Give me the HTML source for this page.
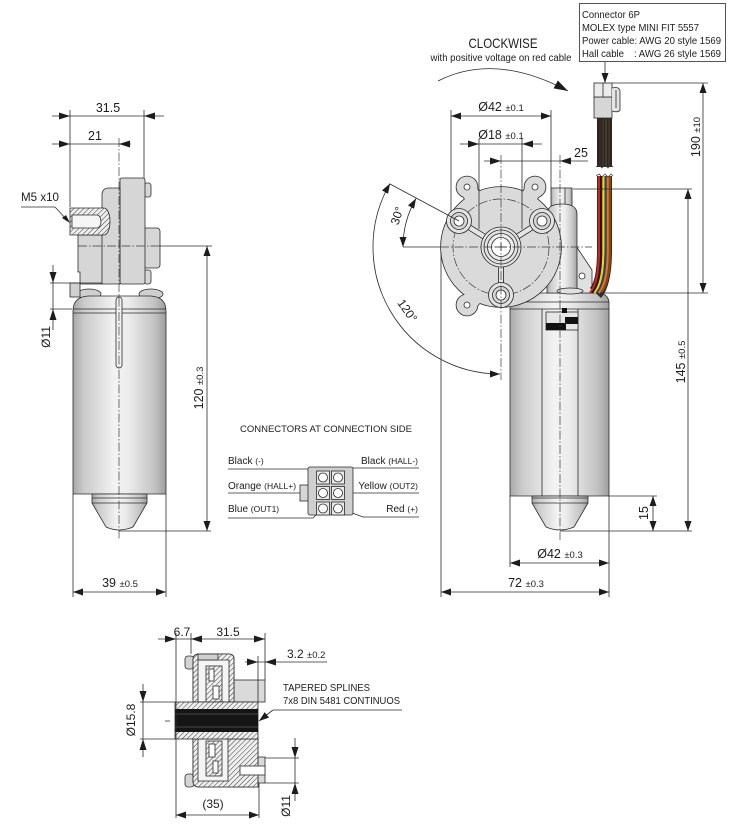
<!DOCTYPE html>
<html><head><meta charset="utf-8"><title>Gear motor drawing</title>
<style>
html,body{margin:0;padding:0;background:#fff;width:737px;height:827px;overflow:hidden}
svg{display:block}
text{font-family:"Liberation Sans",Arial,sans-serif;fill:#1c1c1c}
.l{stroke:#2b2b2b;stroke-width:0.8;fill:none}
.c{stroke:#3a3a3a;stroke-width:0.7;fill:none;stroke-dasharray:9 2 1.5 2}
.a{fill:#1c1c1c}
.o{stroke:#2b2b2b;stroke-width:0.8}
</style></head><body>
<svg width="737" height="827" viewBox="0 0 737 827" xmlns="http://www.w3.org/2000/svg">
<defs>
 <linearGradient id="g" x1="0" x2="1" y1="0" y2="0">
  <stop offset="0" stop-color="#a8a8a8"/>
  <stop offset="0.12" stop-color="#cbcbcb"/>
  <stop offset="0.45" stop-color="#f3f3f3"/>
  <stop offset="0.6" stop-color="#ececec"/>
  <stop offset="0.88" stop-color="#c2c2c2"/>
  <stop offset="1" stop-color="#9e9e9e"/>
 </linearGradient>
 <pattern id="h" width="3.5" height="3.5" patternUnits="userSpaceOnUse" patternTransform="rotate(45)">
  <rect width="3.5" height="3.5" fill="#eeeeee"/>
  <line x1="0" y1="0" x2="0" y2="3.5" stroke="#2a2a2a" stroke-width="0.9"/>
 </pattern>
 <marker id="m" viewBox="0 0 10 7" refX="10" refY="3.5" markerWidth="10" markerHeight="7" markerUnits="userSpaceOnUse" orient="auto-start-reverse"><path d="M0,0 L10,3.5 L0,7 z" fill="#1c1c1c"/></marker>
 <marker id="mb" viewBox="0 0 14 9" refX="14" refY="4.5" markerWidth="14" markerHeight="9" markerUnits="userSpaceOnUse" orient="auto"><path d="M0,0 L14,4.5 L0,9 z" fill="#1c1c1c"/></marker>
</defs>

<!-- ================= LEFT VIEW ================= -->
<ellipse class="o" cx="89" cy="294" rx="12" ry="5" fill="#cfcfcf"/>
<ellipse class="o" cx="151" cy="294" rx="12" ry="5" fill="#cfcfcf"/>
<path class="o" fill="url(#g)" d="M73,494 V311 Q73,297 88,296 H151 Q166,297 166,311 V494 Z"/>
<line class="l" x1="73" y1="309" x2="166" y2="309"/>
<line class="l" x1="73" y1="313" x2="166" y2="313"/>
<rect class="o" x="116" y="297" width="6" height="71" rx="3" fill="#f2f2f2"/>
<path class="o" fill="url(#g)" d="M92,494 V503 L106,527 Q119,533 133,527 L147,503 V494 Z"/>
<line class="l" x1="92" y1="498" x2="147" y2="498"/>
<line class="l" x1="92" y1="503" x2="147" y2="503"/>

<g fill="#d6d6d6" class="o">
 <rect x="143" y="228" width="17" height="40" rx="3"/>
 <rect x="144" y="183" width="7" height="14" rx="2.5"/>
 <rect x="144" y="270" width="7" height="14" rx="2.5"/>
 <rect x="120" y="178" width="25" height="106" rx="2"/>
 <path d="M78,235 H103 V284 H80 V272 H78 Z"/>
 <path d="M102,284 V195 Q102,188 109,188 H120 V284 Z"/>
 <rect x="70" y="283" width="10" height="14" fill="#d0d0d0"/>
</g>
<path class="o" fill="url(#h)" d="M70,208 H104 A6,13.5 0 0 1 104,235 H70 Z"/>
<path class="o" fill="#f6f6f6" d="M72,215 H97 A4,6.5 0 0 1 97,228 H72 Z"/>

<line class="c" x1="119" y1="138" x2="119" y2="540"/>
<line class="c" x1="78" y1="246" x2="160" y2="246"/>
<line class="l" x1="160" y1="246" x2="212" y2="246"/>

<g class="l">
 <line x1="52" y1="116" x2="164" y2="116"/>
 <line x1="70" y1="110" x2="70" y2="207"/>
 <line x1="144" y1="110" x2="144" y2="178"/>
 <line x1="52" y1="144" x2="131" y2="144"/>
 <line x1="21" y1="207" x2="55" y2="207"/>
 <line x1="55" y1="207" x2="67" y2="220"/>
 <line x1="50" y1="283" x2="102" y2="283"/>
 <line x1="50" y1="309" x2="72" y2="309"/>
 <line x1="53" y1="265" x2="53" y2="330"/>
 <line x1="119" y1="531" x2="211" y2="531"/>
 <line x1="207" y1="246" x2="207" y2="531" marker-start="url(#m)" marker-end="url(#m)"/>
 <line x1="73" y1="494" x2="73" y2="597"/>
 <line x1="166" y1="494" x2="166" y2="597"/>
 <line x1="73" y1="592" x2="166" y2="592" marker-start="url(#m)" marker-end="url(#m)"/>
</g>
<polygon class="a" points="70,116 59,112.5 59,119.5"/>
<polygon class="a" points="144,116 155,112.5 155,119.5"/>
<polygon class="a" points="70,144 59,140.5 59,147.5"/>
<polygon class="a" points="119,144 130,140.5 130,147.5"/>
<polygon class="a" points="70,223 62,218 66,215"/>
<polygon class="a" points="53,283 49.5,272 56.5,272"/>
<polygon class="a" points="53,309 49.5,320 56.5,320"/>

<text x="108" y="112" font-size="12.5" text-anchor="middle">31.5</text>
<text x="95" y="140" font-size="12.5" text-anchor="middle">21</text>
<text x="21" y="201" font-size="12" textLength="38" lengthAdjust="spacingAndGlyphs">M5 x10</text>
<text transform="translate(50,337) rotate(-90)" font-size="12" text-anchor="middle">Ø11</text>
<text transform="translate(203,388) rotate(-90)" text-anchor="middle"><tspan font-size="12.5">120 </tspan><tspan font-size="9.5">±0.3</tspan></text>
<text x="120" y="587" text-anchor="middle"><tspan font-size="12.5">39 </tspan><tspan font-size="9.5">±0.5</tspan></text>

<!-- ================= RIGHT VIEW ================= -->
<path class="o" fill="url(#g)" d="M510,496 V302 Q511,294 520,293 H599 Q608,294 609,302 V496 Z"/>
<line class="l" x1="510" y1="302" x2="609" y2="302"/>
<line class="l" x1="510" y1="309" x2="609" y2="309"/>
<line class="l" x1="542" y1="309" x2="542" y2="496"/>
<line class="l" x1="578" y1="309" x2="578" y2="496"/>
<rect class="o" x="546" y="312" width="32" height="18" fill="#e6e6e6"/>
<rect x="546" y="323" width="20" height="7" fill="#111"/>
<rect x="565" y="317" width="13" height="7" fill="#111"/>
<rect x="562" y="308" width="5" height="5" fill="#111"/>
<path class="o" fill="url(#g)" d="M532,496 V503 L546,527 Q560,533 574,527 L588,503 V496 Z"/>
<line class="l" x1="532" y1="498" x2="588" y2="498"/>
<line class="l" x1="532" y1="503" x2="588" y2="503"/>

<!-- pillar (behind housing edge) -->
<g class="o">
 <rect x="551" y="188" width="21" height="18" fill="url(#g)"/>
 <polygon points="576,246 592,270 592,293 576,293" fill="#e0e0e0"/>
 <path d="M547,293 V214 Q547,204 562,204 Q577,204 577,214 V293 Z" fill="url(#g)"/>
 <ellipse cx="570" cy="291" rx="13" ry="3" fill="#e0e0e0"/>
</g>
<line class="l" x1="565" y1="188" x2="565" y2="204"/>
<circle class="o" cx="582" cy="276" r="3" fill="#fff"/>

<!-- housing: union outline (stroke pass then fill pass) -->
<g fill="#2b2b2b" stroke="#2b2b2b" stroke-width="1.6">
 <circle cx="501" cy="247" r="60"/>
 <circle cx="467" cy="187" r="10.5"/>
 <circle cx="535" cy="187" r="10.5"/>
 <circle cx="467" cy="305" r="10.5"/>
</g>
<g stroke="#2b2b2b" stroke-width="17.6" stroke-linecap="butt">
 <line x1="467" y1="187" x2="480" y2="209"/>
 <line x1="535" y1="187" x2="522" y2="209"/>
 <line x1="467" y1="305" x2="482" y2="289"/>
</g>
<g fill="#dadada">
 <circle cx="501" cy="247" r="60"/>
 <circle cx="467" cy="187" r="10.5"/>
 <circle cx="535" cy="187" r="10.5"/>
 <circle cx="467" cy="305" r="10.5"/>
</g>
<g stroke="#dadada" stroke-width="16" stroke-linecap="butt">
 <line x1="467" y1="187" x2="481" y2="211"/>
 <line x1="535" y1="187" x2="521" y2="211"/>
 <line x1="467" y1="305" x2="484" y2="287"/>
</g>
<g fill="#fff" class="o">
 <circle cx="467" cy="187" r="3"/>
 <circle cx="535" cy="187" r="3"/>
 <circle cx="467" cy="305" r="3"/>
</g>

<circle class="c" cx="501" cy="247" r="48"/>
<g stroke-linecap="butt">
 <line x1="501" y1="247" x2="459" y2="221" stroke="#2b2b2b" stroke-width="6"/>
 <line x1="501" y1="247" x2="542" y2="221" stroke="#2b2b2b" stroke-width="6"/>
 <line x1="501" y1="247" x2="501" y2="295" stroke="#2b2b2b" stroke-width="6"/>
 <line x1="501" y1="247" x2="459" y2="221" stroke="#e4e4e4" stroke-width="4.3"/>
 <line x1="501" y1="247" x2="542" y2="221" stroke="#e4e4e4" stroke-width="4.3"/>
 <line x1="501" y1="247" x2="501" y2="295" stroke="#e4e4e4" stroke-width="4.3"/>
</g>
<g class="o">
 <circle cx="459" cy="221" r="12.5" fill="#e2e2e2"/><circle cx="459" cy="221" r="8.5" fill="#d6d6d6"/><circle cx="459" cy="221" r="5" fill="#fff"/>
 <circle cx="542" cy="221" r="12.5" fill="#e2e2e2"/><circle cx="542" cy="221" r="8.5" fill="#d6d6d6"/><circle cx="542" cy="221" r="5" fill="#fff"/>
 <circle cx="501" cy="295" r="12.5" fill="#e2e2e2"/><circle cx="501" cy="295" r="8.5" fill="#d6d6d6"/><circle cx="501" cy="295" r="5" fill="#fff"/>
 <circle cx="501" cy="247" r="20" fill="#e2e2e2"/>
 <circle cx="501" cy="247" r="17" fill="none"/>
 <circle cx="501" cy="247" r="13.5" fill="#ececec"/>
 <circle cx="501" cy="247" r="9.5" fill="#fff"/>
</g>
<g class="l" stroke-width="0.6">
 <line x1="495" y1="247" x2="507" y2="247"/>
 <line x1="501" y1="243" x2="501" y2="251"/>
</g>

<!-- cables lower -->
<path d="M604.5,176 V250 Q604.5,283 595.5,293" fill="none" stroke="#2b2b2b" stroke-width="15"/>
<g fill="none" stroke-width="2.2">
 <path d="M599,176 V250 Q599,283 590,293" stroke="#d81e1e"/>
 <path d="M601.2,176 V250 Q601.2,283 592.2,293" stroke="#1a1a1a"/>
 <path d="M603.4,176 V250 Q603.4,283 594.4,293" stroke="#f2d600"/>
 <path d="M605.6,176 V250 Q605.6,283 596.6,293" stroke="#2a3f8f"/>
 <path d="M607.8,176 V250 Q607.8,283 598.8,293" stroke="#e07a10"/>
 <path d="M610,176 V250 Q610,283 601,293" stroke="#8b4513"/>
</g>
<!-- cables upper -->
<rect x="597" y="117" width="15" height="50" fill="#262626"/>
<g stroke-width="1">
 <line x1="600" y1="118" x2="600" y2="167" stroke="#5a2418"/>
 <line x1="603" y1="118" x2="603" y2="167" stroke="#444"/>
 <line x1="606" y1="118" x2="606" y2="167" stroke="#6a5020"/>
 <line x1="609" y1="118" x2="609" y2="167" stroke="#5a3a18"/>
</g>
<polyline points="596,167 599,165 602,168 605,165 608,168 611,165 613,167" fill="none" stroke="#333" stroke-width="0.7"/>
<polyline points="596,176 599,174 602,177 605,174 608,177 611,174 613,176" fill="none" stroke="#333" stroke-width="0.7"/>
<rect class="o" x="594" y="97" width="18" height="21" fill="#d6d6d6"/>
<rect class="o" x="594" y="83" width="18" height="14" fill="#ececec"/>
<line class="l" x1="603" y1="83" x2="603" y2="97"/>
<path class="o" fill="#e4e4e4" d="M612,88 Q620,86 620,92 V110 Q618,113 612,111"/>
<line class="l" x1="616" y1="90" x2="616" y2="108"/>

<!-- right centerlines -->
<line class="c" x1="501" y1="155" x2="501" y2="380"/>
<line class="c" x1="560" y1="155" x2="560" y2="540"/>
<line class="l" x1="403" y1="247" x2="440" y2="247"/>
<line class="c" x1="440" y1="247" x2="592" y2="247"/>

<g class="l">
 <line x1="451" y1="110" x2="451" y2="212"/>
 <line x1="551" y1="110" x2="551" y2="188"/>
 <line x1="451" y1="116" x2="551" y2="116" marker-start="url(#m)" marker-end="url(#m)"/>
 <line x1="479" y1="139" x2="479" y2="229"/>
 <line x1="522" y1="139" x2="522" y2="229"/>
 <line x1="460" y1="144" x2="542" y2="144"/>
 <line x1="484" y1="161" x2="588" y2="161"/>
 <line x1="441" y1="252" x2="441" y2="597"/>
 <line x1="609" y1="496" x2="609" y2="597"/>
 <line x1="510" y1="496" x2="510" y2="567"/>
 <line x1="510" y1="563" x2="609" y2="563" marker-start="url(#m)" marker-end="url(#m)"/>
 <line x1="441" y1="592" x2="609" y2="592" marker-start="url(#m)" marker-end="url(#m)"/>
 <line x1="609" y1="496" x2="657" y2="496"/>
 <line x1="560" y1="531" x2="692" y2="531"/>
 <line x1="653" y1="496" x2="653" y2="531" marker-start="url(#m)" marker-end="url(#m)"/>
 <line x1="573" y1="189" x2="692" y2="189"/>
 <line x1="688" y1="189" x2="688" y2="531" marker-start="url(#m)" marker-end="url(#m)"/>
 <line x1="612" y1="83" x2="708" y2="83"/>
 <line x1="600" y1="293" x2="708" y2="293"/>
 <line x1="703" y1="83" x2="703" y2="293" marker-start="url(#m)" marker-end="url(#m)"/>
 <line x1="390" y1="184" x2="459" y2="221"/>
 <path d="M416,198.5 A97,97 0 0 0 403,247" marker-start="url(#m)" marker-end="url(#m)"/>
 <path d="M390,183.5 A127,127 0 0 0 500,374" marker-start="url(#m)" marker-end="url(#m)"/>
 <path d="M438,81 Q495,52 568,91" marker-end="url(#mb)"/>
 <line x1="605" y1="62" x2="605" y2="83" marker-end="url(#m)"/>
</g>
<polygon class="a" points="479,144 468,140.5 468,147.5"/>
<polygon class="a" points="522,144 533,140.5 533,147.5"/>
<polygon class="a" points="501,161 490,157.5 490,164.5"/>
<polygon class="a" points="560,161 571,157.5 571,164.5"/>

<rect x="579.5" y="3.5" width="146" height="58" fill="#fff" class="o"/>
<text x="582" y="18" font-size="10.5" textLength="58" lengthAdjust="spacingAndGlyphs">Connector 6P</text>
<text x="582" y="31" font-size="10.5" textLength="117" lengthAdjust="spacingAndGlyphs">MOLEX type MINI FIT 5557</text>
<text x="582" y="44" font-size="10.5" textLength="139" lengthAdjust="spacingAndGlyphs">Power cable: AWG 20 style 1569</text>
<text x="582" y="57" font-size="10.5" textLength="42" lengthAdjust="spacingAndGlyphs">Hall cable</text>
<text x="634" y="57" font-size="10.5" textLength="87" lengthAdjust="spacingAndGlyphs">: AWG 26 style 1569</text>

<text x="503" y="48" font-size="14" text-anchor="middle" textLength="69" lengthAdjust="spacingAndGlyphs">CLOCKWISE</text>
<text x="501" y="61" font-size="10" text-anchor="middle" textLength="141" lengthAdjust="spacingAndGlyphs">with positive voltage on red cable</text>
<text x="501" y="111" text-anchor="middle"><tspan font-size="12.5">Ø42 </tspan><tspan font-size="9.5">±0.1</tspan></text>
<text x="501" y="139" text-anchor="middle"><tspan font-size="12.5">Ø18 </tspan><tspan font-size="9.5">±0.1</tspan></text>
<text x="581" y="157" font-size="12.5" text-anchor="middle">25</text>
<text transform="translate(700,137) rotate(-90)" text-anchor="middle"><tspan font-size="12.5">190 </tspan><tspan font-size="9.5">±10</tspan></text>
<text transform="translate(685,362) rotate(-90)" text-anchor="middle"><tspan font-size="12.5">145 </tspan><tspan font-size="9.5">±0.5</tspan></text>
<text transform="translate(648,513) rotate(-90)" font-size="12.5" text-anchor="middle">15</text>
<text x="560" y="558" text-anchor="middle"><tspan font-size="12.5">Ø42 </tspan><tspan font-size="9.5">±0.3</tspan></text>
<text x="526" y="587" text-anchor="middle"><tspan font-size="12.5">72 </tspan><tspan font-size="9.5">±0.3</tspan></text>
<text transform="translate(401,217) rotate(-72)" font-size="12" text-anchor="middle">30°</text>
<text transform="translate(404,313) rotate(55)" font-size="12" text-anchor="middle">120°</text>

<!-- ================= CONNECTOR DIAGRAM ================= -->
<text x="326" y="432" font-size="9.6" text-anchor="middle" textLength="172" lengthAdjust="spacingAndGlyphs">CONNECTORS AT CONNECTION SIDE</text>
<text x="228" y="464" font-size="10">Black <tspan font-size="8.5">(-)</tspan></text>
<text x="228" y="489" font-size="10">Orange <tspan font-size="8.5">(HALL+)</tspan></text>
<text x="228" y="512" font-size="10">Blue <tspan font-size="8.5">(OUT1)</tspan></text>
<text x="418" y="464" font-size="10" text-anchor="end">Black <tspan font-size="8.5">(HALL-)</tspan></text>
<text x="418" y="489" font-size="10" text-anchor="end">Yellow <tspan font-size="8.5">(OUT2)</tspan></text>
<text x="418" y="512" font-size="10" text-anchor="end">Red <tspan font-size="8.5">(+)</tspan></text>
<g class="l">
 <polyline points="228,469 312,469 322,476"/>
 <line x1="228" y1="493" x2="300" y2="493"/>
 <polyline points="228,518 313,518 322,509"/>
 <polyline points="419,468 346,468 339,476"/>
 <line x1="345" y1="493" x2="419" y2="493"/>
 <polyline points="419,517 363,517 339,508"/>
</g>
<rect class="o" x="300" y="485" width="9" height="16" fill="#d6d6d6"/>
<rect class="o" x="308" y="467" width="45" height="48" rx="2" fill="#cfcfcf"/>
<g class="o" fill="#e8e8e8">
 <rect x="316.5" y="471" width="13" height="13"/><rect x="331.5" y="471" width="13" height="13"/>
 <rect x="316.5" y="486.5" width="13" height="13"/><rect x="331.5" y="486.5" width="13" height="13"/>
 <rect x="316.5" y="502" width="13" height="13"/><rect x="331.5" y="502" width="13" height="13"/>
</g>
<g class="o" fill="#fff">
 <circle cx="323" cy="477.5" r="4.5"/><circle cx="338" cy="477.5" r="4.5"/>
 <circle cx="323" cy="493" r="4.5"/><circle cx="338" cy="493" r="4.5"/>
 <circle cx="323" cy="508.5" r="4.5"/><circle cx="338" cy="508.5" r="4.5"/>
</g>

<!-- ================= BOTTOM SECTION ================= -->
<g class="o">
 <rect x="185" y="656" width="9" height="13" rx="3" fill="#d4d4d4"/>
 <rect x="185" y="774" width="9" height="13" rx="3" fill="#d4d4d4"/>
 <path fill="#f4f4f4" d="M193,702 V660 Q193,654 199,654 H229 Q234,654 234,659 V702 Z"/>
 <rect x="234" y="680" width="31" height="22" fill="#dadada"/>
 <path fill="#f4f4f4" d="M193,739 H258 V787 H199 Q193,787 193,781 Z"/>
 <rect x="258" y="757" width="7" height="26" fill="#dadada"/>
</g>
<g class="o" fill="url(#h)" fill-rule="evenodd">
 <path d="M193,702 V660 Q193,654 199,654 H229 Q234,654 234,659 V702 Z M198,702 V660 H229 V702 Z"/>
 <path d="M193,739 H258 V787 H199 Q193,787 193,781 Z M198,739 H228 V781 H198 Z"/>
 <rect x="206" y="666" width="16" height="36"/>
 <rect x="206" y="741" width="16" height="35"/>
</g>
<rect x="198" y="654" width="20" height="6" fill="#cfcfcf" class="o"/>
<g class="o" fill="#fff">
 <rect x="209" y="669" width="5" height="12"/>
 <rect x="213" y="686" width="6" height="13"/>
 <rect x="209" y="744" width="6" height="13"/>
 <rect x="213" y="761" width="5" height="12"/>
 <rect x="240" y="766" width="25" height="9"/>
</g>
<rect class="o" x="175" y="702" width="83" height="37" fill="url(#h)"/>
<rect x="175" y="709" width="83" height="23" fill="#151515"/>
<line x1="175" y1="714" x2="258" y2="714" stroke="#777" stroke-width="0.6"/>
<line x1="175" y1="727" x2="258" y2="727" stroke="#777" stroke-width="0.6"/>
<line x1="165" y1="721" x2="170" y2="721" stroke="#333" stroke-width="0.8"/>

<g class="l">
 <line x1="158" y1="639" x2="265" y2="639"/>
 <line x1="176" y1="633" x2="176" y2="818"/>
 <line x1="191" y1="633" x2="191" y2="654"/>
 <line x1="265" y1="633" x2="265" y2="680"/>
 <line x1="245" y1="662" x2="327" y2="662"/>
 <line x1="258" y1="656" x2="258" y2="702"/>
 <line x1="140" y1="702" x2="175" y2="702"/>
 <line x1="140" y1="739" x2="175" y2="739"/>
 <line x1="143" y1="684" x2="143" y2="757"/>
 <line x1="265" y1="758" x2="299" y2="758"/>
 <line x1="265" y1="783" x2="299" y2="783"/>
 <line x1="295" y1="738" x2="295" y2="801"/>
 <line x1="259" y1="783" x2="259" y2="818"/>
 <line x1="176" y1="815" x2="259" y2="815" marker-start="url(#m)" marker-end="url(#m)"/>
 <line x1="273" y1="710" x2="402" y2="710"/>
 <line x1="273" y1="710" x2="259" y2="721" marker-end="url(#m)"/>
</g>
<polygon class="a" points="176,639 165,635.5 165,642.5"/>
<polygon class="a" points="191,639 202,635.5 202,642.5"/>
<polygon class="a" points="265,639 254,635.5 254,642.5"/>
<polygon class="a" points="258,662 247,658.5 247,665.5"/>
<polygon class="a" points="265,662 276,658.5 276,665.5"/>
<polygon class="a" points="143,702 139.5,691 146.5,691"/>
<polygon class="a" points="143,739 139.5,750 146.5,750"/>
<polygon class="a" points="295,758 291.5,747 298.5,747"/>
<polygon class="a" points="295,783 291.5,794 298.5,794"/>

<text x="182" y="636" font-size="12" text-anchor="middle">6.7</text>
<text x="228" y="636" font-size="12" text-anchor="middle">31.5</text>
<text x="287" y="658"><tspan font-size="12">3.2 </tspan><tspan font-size="9.5">±0.2</tspan></text>
<text x="283" y="691" font-size="10" textLength="87" lengthAdjust="spacingAndGlyphs">TAPERED SPLINES</text>
<text x="283" y="704" font-size="10" textLength="117" lengthAdjust="spacingAndGlyphs">7x8 DIN 5481 CONTINUOS</text>
<text transform="translate(135,720) rotate(-90)" font-size="12" text-anchor="middle">Ø15.8</text>
<text transform="translate(290,806) rotate(-90)" font-size="12" text-anchor="middle">Ø11</text>
<text x="213" y="808" font-size="12" text-anchor="middle">(35)</text>
</svg>
</body></html>
